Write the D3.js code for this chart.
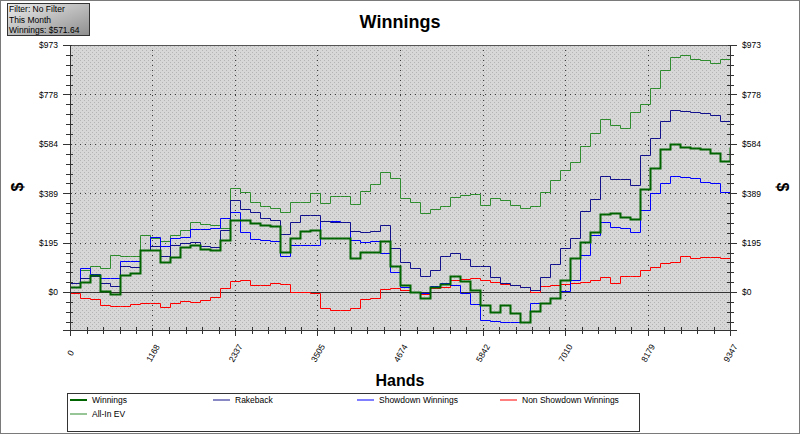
<!DOCTYPE html>
<html lang="en">
<head>
<meta charset="UTF-8">
<title>Winnings</title>
<script src="https://cdnjs.cloudflare.com/ajax/libs/d3/7.8.5/d3.min.js"></script>
<style>
  body { margin: 0; background: #fff; }
  svg { display: block; font-family: "Liberation Sans", Arial, sans-serif; }
</style>
</head>
<body>
<svg width="800" height="434"></svg>
<script>
"use strict";

// hand count at each sample
const hands = [0, 142, 283, 425, 566, 708, 850, 991, 1133, 1275,
    1416, 1558, 1699, 1841, 1983, 2124, 2266, 2408, 2549, 2691,
    2832, 2974, 3116, 3257, 3399, 3541, 3682, 3824, 3965, 4107,
    4249, 4390, 4532, 4674, 4815, 4957, 5098, 5240, 5382, 5523,
    5665, 5806, 5948, 6090, 6231, 6373, 6515, 6656, 6798, 6939,
    7081, 7223, 7364, 7506, 7647, 7789, 7931, 8072, 8214, 8356,
    8497, 8639, 8780, 8922, 9064, 9205, 9347];

const winnings = [20, 39, 67, 4, -8, 67, 75, 165, 165, 118,
    138, 177, 185, 169, 165, 204, 283, 283, 271, 263,
    259, 157, 212, 240, 244, 212, 212, 212, 134, 157,
    157, 200, 102, 28, 0, -24, 20, 31, 63, 43,
    8, -51, -79, -51, -83, -118, -75, -43, -24, 47,
    134, 197, 236, 307, 311, 295, 287, 405, 487, 562,
    582, 570, 566, 562, 546, 515, 572];

const rakeback = [35, 55, 63, 35, 24, 102, 98, 165, 181, 142,
    185, 193, 197, 181, 177, 244, 362, 326, 314, 291,
    283, 228, 275, 303, 303, 279, 275, 275, 240, 236,
    240, 263, 173, 118, 94, 63, 86, 142, 153, 130,
    102, 102, 59, 35, 28, 20, 8, 59, 110, 173,
    212, 318, 366, 456, 444, 444, 421, 539, 605, 672,
    719, 715, 708, 704, 696, 672, 727];

const showdown = [35, 94, 71, 55, 55, 122, 122, 165, 216, 181,
    212, 216, 248, 248, 252, 291, 314, 236, 208, 204,
    200, 142, 185, 185, 185, 279, 279, 275, 204, 197,
    200, 153, 79, 20, 0, -4, 24, 35, 28, -4,
    -47, -110, -114, -118, -118, -118, -43, -43, -24, 4,
    47, 145, 224, 275, 256, 252, 236, 322, 389, 428,
    456, 452, 448, 432, 428, 393, 432];

const nonShowdown = [-4, -24, -28, -51, -55, -55, -47, -43, -43, -59,
    -43, -35, -39, -31, -20, 16, 43, 47, 28, 28,
    35, 31, 0, 0, -4, -63, -71, -71, -63, -28,
    -24, 12, 16, 8, 0, -8, 16, 20, 47, 51,
    55, 47, 39, 31, 28, 20, 0, 24, 28, 31,
    35, 39, 47, 59, 35, 63, 63, 86, 98, 114,
    118, 142, 134, 138, 138, 134, 138];

const allInEV = [35, 86, 102, 94, 145, 142, 142, 224, 212, 200,
    224, 244, 275, 267, 263, 252, 409, 393, 354, 338,
    330, 314, 354, 354, 389, 350, 377, 377, 346, 397,
    425, 472, 448, 370, 354, 311, 326, 338, 373, 381,
    385, 342, 370, 362, 342, 330, 338, 393, 440, 480,
    511, 574, 625, 680, 660, 645, 708, 739, 802, 873,
    924, 932, 916, 912, 904, 916, 963];

const seriesNames = ["Winnings", "Rakeback", "Showdown Winnings", "Non Showdown Winnings", "All-In EV"];

const xTicks = [0, 1168, 2337, 3505, 4674, 5842, 7010, 8179, 9347];
const yTicks = [0, 194.6, 389.2, 583.8, 778.4, 973];
const yTickLabels = ["$0", "$195", "$389", "$584", "$778", "$973"];
const yMin = -149, yMax = 973, handsMax = 9347;

const filterLines = ["Filter: No Filter", "This Month", "Winnings: $571.64"];

const svg = d3.select("svg");
const W = 800, H = 434;
const plot = { left: 70, right: 730, top: 45, bottom: 330 };

const x = d3.scaleLinear().domain([0, handsMax]).range([plot.left, plot.right]);
const y = d3.scaleLinear().domain([yMin, yMax]).range([plot.bottom, plot.top]);

const defs = svg.append("defs");
const pat = defs.append("pattern").attr("id", "dots")
    .attr("width", 4).attr("height", 4).attr("patternUnits", "userSpaceOnUse");
pat.append("rect").attr("width", 4).attr("height", 4).attr("fill", "#d7d7d7");
pat.append("rect").attr("x", 0).attr("y", 0).attr("width", 1).attr("height", 1).attr("fill", "#b4b4b4");
pat.append("rect").attr("x", 2).attr("y", 2).attr("width", 1).attr("height", 1).attr("fill", "#b4b4b4");

const grad = defs.append("linearGradient").attr("id", "boxgrad")
    .attr("x1", 0).attr("y1", 0).attr("x2", 1).attr("y2", 1);
grad.append("stop").attr("offset", "0%").attr("stop-color", "#ececec");
grad.append("stop").attr("offset", "100%").attr("stop-color", "#8e8e8e");

defs.append("clipPath").attr("id", "clip").append("rect")
    .attr("x", plot.left).attr("y", plot.top)
    .attr("width", plot.right - plot.left).attr("height", plot.bottom - plot.top);

// outer frame
svg.append("rect").attr("x", 0.5).attr("y", 0.5).attr("width", W - 1).attr("height", H - 1)
    .attr("fill", "#fff").attr("stroke", "#7a7a7a");

// plot background
svg.append("rect")
    .attr("x", plot.left).attr("y", plot.top)
    .attr("width", plot.right - plot.left).attr("height", plot.bottom - plot.top)
    .attr("fill", "url(#dots)");

// grid
const grid = svg.append("g").attr("stroke", "#3a3a3a").attr("stroke-dasharray", "1,4")
    .attr("shape-rendering", "crispEdges");
grid.selectAll(".gy").data(yTicks.filter(d => d !== 0)).enter().append("line")
    .attr("x1", plot.left).attr("x2", plot.right)
    .attr("y1", d => Math.round(y(d)) + 0.5).attr("y2", d => Math.round(y(d)) + 0.5);
grid.selectAll(".gx").data(xTicks.slice(1, -1)).enter().append("line")
    .attr("y1", plot.top).attr("y2", plot.bottom)
    .attr("x1", d => Math.round(x(d)) + 0.5).attr("x2", d => Math.round(x(d)) + 0.5);

// zero line
svg.append("line")
    .attr("x1", plot.left).attr("x2", plot.right)
    .attr("y1", Math.round(y(0)) + 0.5).attr("y2", Math.round(y(0)) + 0.5)
    .attr("stroke", "#333").attr("shape-rendering", "crispEdges");

// series
const series = [
    { name: seriesNames[0], values: winnings, color: "#006400", width: 2 },
    { name: seriesNames[1], values: rakeback, color: "#12128c", width: 1 },
    { name: seriesNames[2], values: showdown, color: "#0000ff", width: 1 },
    { name: seriesNames[3], values: nonShowdown, color: "#ff0000", width: 1 },
    { name: seriesNames[4], values: allInEV, color: "#2e8b2e", width: 1 },
];
const drawOrder = [4, 3, 2, 1, 0];

const line = d3.line()
    .x(d => Math.round(x(d[0])) + 0.5)
    .y(d => Math.round(y(d[1])) + 0.5)
    .curve(d3.curveStepAfter);

svg.append("g").attr("clip-path", "url(#clip)")
    .selectAll("path")
    .data(drawOrder.map(i => series[i]))
    .enter().append("path")
    .attr("fill", "none")
    .attr("stroke", d => d.color)
    .attr("stroke-width", d => d.width)
    .attr("d", d => line(hands.map((h, i) => [h, d.values[i]])));

// plot frame
svg.append("rect")
    .attr("x", plot.left + 0.5).attr("y", plot.top + 0.5)
    .attr("width", plot.right - plot.left).attr("height", plot.bottom - plot.top)
    .attr("fill", "none").attr("stroke", "#555").attr("shape-rendering", "crispEdges");

// axes
const yMinor = d3.range(0, 6).flatMap(k => [1, 2, 3, 4].map(j => (k * 5 + j) * 38.92))
    .concat([1, 2, 3].map(j => -j * 38.92))
    .filter(v => v > yMin && v < yMax);
const xMinor = d3.range(0, 8).flatMap(k => [1, 2, 3, 4].map(j => (k * 5 + j) * handsMax / 40));

function styleAxis(g) {
    g.select(".domain").attr("stroke", "#333");
    g.selectAll("line").attr("stroke", "#333").attr("shape-rendering", "crispEdges");
    g.selectAll("text").attr("font-size", 8.5).attr("fill", "#000")
        .attr("font-family", "'Liberation Sans', Arial, sans-serif");
}

const leftAxis = svg.append("g").attr("transform", `translate(${plot.left},0)`)
    .call(d3.axisLeft(y).tickValues(yTicks).tickSize(7).tickPadding(5)
        .tickFormat((d, i) => yTickLabels[i]))
    .call(styleAxis);
leftAxis.selectAll(".tick line").attr("x2", -7).attr("x1", 2);

svg.append("g").attr("transform", `translate(${plot.left},0)`)
    .call(d3.axisLeft(y).tickValues(yMinor).tickSize(4).tickFormat(""))
    .call(styleAxis)
    .call(g => g.select(".domain").remove())
    .selectAll(".tick line").attr("x1", 3);

const rightAxis = svg.append("g").attr("transform", `translate(${plot.right},0)`)
    .call(d3.axisRight(y).tickValues(yTicks).tickSize(7).tickPadding(5)
        .tickFormat((d, i) => yTickLabels[i]))
    .call(styleAxis);
rightAxis.selectAll(".tick line").attr("x1", -2);

svg.append("g").attr("transform", `translate(${plot.right},0)`)
    .call(d3.axisRight(y).tickValues(yMinor).tickSize(4).tickFormat(""))
    .call(styleAxis)
    .call(g => g.select(".domain").remove())
    .selectAll(".tick line").attr("x1", -3);

const bottomAxis = svg.append("g").attr("transform", `translate(0,${plot.bottom})`)
    .call(d3.axisBottom(x).tickValues(xTicks).tickSize(6).tickFormat(d => d))
    .call(styleAxis);
bottomAxis.selectAll(".tick line").attr("y1", -2);
bottomAxis.selectAll(".tick text")
    .attr("text-anchor", "middle")
    .attr("y", 0).attr("dy", "0.35em")
    .attr("transform", "translate(0,23) rotate(-60)");

svg.append("g").attr("transform", `translate(0,${plot.bottom})`)
    .call(d3.axisBottom(x).tickValues(xMinor).tickSize(4).tickFormat(""))
    .call(styleAxis)
    .call(g => g.select(".domain").remove())
    .selectAll(".tick line").attr("y1", -3);

// titles
svg.append("text").attr("x", 400).attr("y", 28).attr("text-anchor", "middle")
    .attr("font-size", 18).attr("font-weight", "bold").text("Winnings");
svg.append("text").attr("x", 400).attr("y", 386).attr("text-anchor", "middle")
    .attr("font-size", 16).attr("font-weight", "bold").text("Hands");
svg.append("text").attr("transform", "translate(23,187) rotate(-90)").attr("text-anchor", "middle")
    .attr("font-size", 16).attr("font-weight", "bold").text("$");
svg.append("text").attr("transform", "translate(777,187) rotate(90)").attr("text-anchor", "middle")
    .attr("font-size", 16).attr("font-weight", "bold").text("$");

// filter box
svg.append("rect").attr("x", 7.5).attr("y", 3.5).attr("width", 82).attr("height", 32)
    .attr("fill", "url(#boxgrad)").attr("stroke", "#333");
svg.append("g").selectAll("text").data(filterLines).enter().append("text")
    .attr("x", 9).attr("y", (d, i) => 12 + i * 10.5)
    .attr("font-size", 8.5).text(d => d);

// legend
const legend = svg.append("g");
legend.append("rect").attr("x", 67.5).attr("y", 393.5).attr("width", 572).attr("height", 38)
    .attr("fill", "#fff").attr("stroke", "#333");
const legendPos = [[70, 403], [213, 403], [357, 403], [500, 403], [70, 417]];
const item = legend.selectAll(".item").data(series).enter().append("g")
    .attr("transform", (d, i) => `translate(${legendPos[i][0]},${legendPos[i][1]})`);
item.append("line").attr("x1", 0).attr("x2", 17).attr("y1", -3).attr("y2", -3)
    .attr("stroke", d => d.color).attr("stroke-width", d => d.width);
item.append("text").attr("x", 22).attr("y", 0).attr("font-size", 8.5).text(d => d.name);
</script>
</body>
</html>
